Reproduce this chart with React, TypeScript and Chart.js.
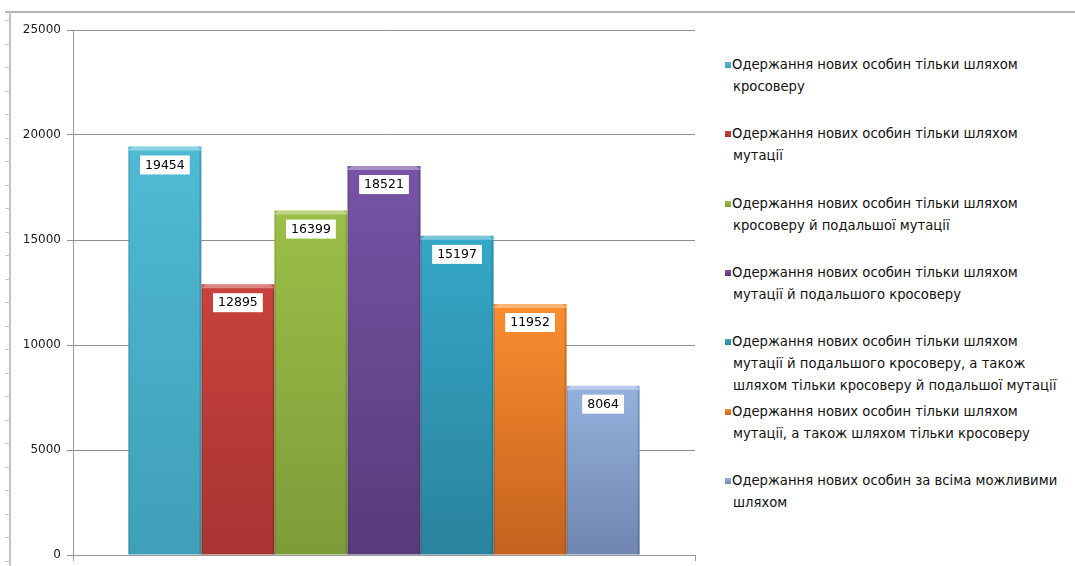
import React, { useEffect, useRef } from "react";
import { Chart, registerables } from "chart.js";

Chart.register(...registerables);

const categories = [""];
const seriesLabels: string[][] = [
  ["Одержання нових особин тільки шляхом", "кросоверу"],
  ["Одержання нових особин тільки шляхом", "мутації"],
  ["Одержання нових особин тільки шляхом", "кросоверу й подальшої мутації"],
  ["Одержання нових особин тільки шляхом", "мутації й подальшого кросоверу"],
  [
    "Одержання нових особин тільки шляхом",
    "мутації й подальшого кросоверу, а також",
    "шляхом тільки кросоверу й подальшої мутації",
  ],
  ["Одержання нових особин тільки шляхом", "мутації, а також шляхом тільки кросоверу"],
  ["Одержання нових особин за всіма можливими", "шляхом"],
];
const seriesValues = [19454, 12895, 16399, 18521, 15197, 11952, 8064];
const topColors = ["#50bad4", "#c9423d", "#9cbf48", "#7853a6", "#35a7c7", "#fa8d2f", "#94b2de"];
const bottomColors = ["#3f9fb8", "#a83432", "#7c9c38", "#573b7a", "#2a839c", "#c4621e", "#7086b0"];
const yMin = 0;
const yMax = 25000;
const yStep = 5000;

const FONT = "'DejaVu Sans', sans-serif";

const barDecorPlugin = {
  id: "barDecor",
  afterDatasetsDraw(chart: any) {
    const ctx = chart.ctx;
    ctx.save();
    chart.data.datasets.forEach((ds: any, i: number) => {
      const meta = chart.getDatasetMeta(i);
      meta.data.forEach((bar: any, j: number) => {
        const { x, y, width, base } = bar.getProps(["x", "y", "width", "base"], true);
        const left = x - width / 2;
        const right = x + width / 2;
        ctx.fillStyle = "rgba(255,255,255,0.35)";
        ctx.beginPath();
        ctx.moveTo(left, y + 4);
        ctx.lineTo(left + 4, y);
        ctx.lineTo(right - 4, y);
        ctx.lineTo(right, y + 4);
        ctx.closePath();
        ctx.fill();
        ctx.fillStyle = "rgba(0,0,0,0.10)";
        ctx.fillRect(left, y + 4, 1.5, base - y - 4);
        ctx.fillStyle = "rgba(0,0,0,0.14)";
        ctx.fillRect(right - 2, y + 4, 2, base - y - 4);
        const v = ds.data[j];
        const text = String(v);
        ctx.font = "12.5px " + FONT;
        const tw = ctx.measureText(text).width;
        const bw = tw + 10;
        const bh = 19;
        const by = y + 9;
        ctx.fillStyle = "#ffffff";
        ctx.fillRect(x - bw / 2, by, bw, bh);
        ctx.fillStyle = "#000000";
        ctx.textAlign = "center";
        ctx.textBaseline = "middle";
        ctx.fillText(text, x, by + bh / 2 + 0.5);
      });
    });
    ctx.restore();
  },
};

export default function App() {
  const canvasRef = useRef<HTMLCanvasElement | null>(null);

  useEffect(() => {
    document.body.style.margin = "0";
    const canvas = canvasRef.current;
    if (!canvas) return;
    const chart = new Chart(canvas, {
      type: "bar",
      data: {
        labels: categories,
        datasets: seriesValues.map((v, i) => ({
          label: seriesLabels[i].join(" "),
          data: [v],
          borderWidth: 0,
          backgroundColor: (c: any) => {
            const ch = c.chart;
            const area = ch.chartArea;
            if (!area || !ch.scales || !ch.scales.y) return topColors[i];
            const yTop = ch.scales.y.getPixelForValue(v);
            const g = ch.ctx.createLinearGradient(0, yTop, 0, area.bottom);
            g.addColorStop(0, topColors[i]);
            g.addColorStop(1, bottomColors[i]);
            return g;
          },
        })),
      },
      options: {
        animation: false,
        responsive: false,
        maintainAspectRatio: false,
        layout: { padding: { top: 30, right: 5, bottom: 0, left: 0 } },
        datasets: { bar: { categoryPercentage: 0.822, barPercentage: 1 } } as any,
        plugins: {
          legend: { display: false },
          tooltip: { enabled: false },
        },
        scales: {
          x: {
            offset: true,
            grid: { display: true, drawOnChartArea: false, tickLength: 6, color: "#9a9a9a" },
            border: { color: "#9a9a9a" },
            ticks: { display: false },
            afterFit: (s: any) => {
              s.height = 11;
            },
          },
          y: {
            min: yMin,
            max: yMax,
            ticks: {
              stepSize: yStep,
              color: "#1a1a1a",
              padding: 6,
              font: { family: FONT, size: 12 },
              callback: (val: any) => String(val),
            },
            grid: { color: "#8f8f8f", tickLength: 6 },
            border: { color: "#9a9a9a" },
            afterFit: (s: any) => {
              s.width = 73;
              s.paddingTop = 0;
              s.paddingBottom = 0;
            },
          },
        },
      },
      plugins: [barDecorPlugin],
    });
    return () => chart.destroy();
  }, []);

  return (
    <div
      style={{
        position: "fixed",
        left: 0,
        top: 0,
        width: 1075,
        height: 566,
        background: "#ffffff",
        overflow: "hidden",
        fontFamily: FONT,
      }}
    >
      <div
        style={{
          position: "absolute",
          left: 5,
          top: 11,
          width: 1070,
          height: 2,
          background: "#b5b5b5",
        }}
      />
      <div
        style={{
          position: "absolute",
          left: 9,
          top: 12,
          width: 2,
          height: 554,
          background: "#c4c4c4",
        }}
      />
      <div
        style={{
          position: "absolute",
          left: 5,
          top: 20,
          width: 4,
          height: 546,
          backgroundImage:
            "repeating-linear-gradient(to bottom, #c8c8c8 0px, #c8c8c8 1px, transparent 1px, transparent 23.5px)",
        }}
      />
      <canvas
        ref={canvasRef}
        width={700}
        height={566}
        style={{ position: "absolute", left: 0, top: 0, width: 700, height: 566 }}
      />
      {seriesLabels.map((lines, i) => (
        <div
          key={i}
          style={{
            position: "absolute",
            left: 725,
            top: 54 + i * 69.3,
            fontSize: 13.2,
            lineHeight: "22px",
            color: "#111",
            whiteSpace: "nowrap",
          }}
        >
          <span
            style={{
              position: "absolute",
              left: 0,
              top: 8,
              width: 6,
              height: 6,
              background: `linear-gradient(to bottom, ${topColors[i]}, ${bottomColors[i]})`,
            }}
          />
          {lines.map((ln, k) => (
            <div key={k} style={{ paddingLeft: k === 0 ? 7 : 8 }}>
              {ln}
            </div>
          ))}
        </div>
      ))}
    </div>
  );
}
